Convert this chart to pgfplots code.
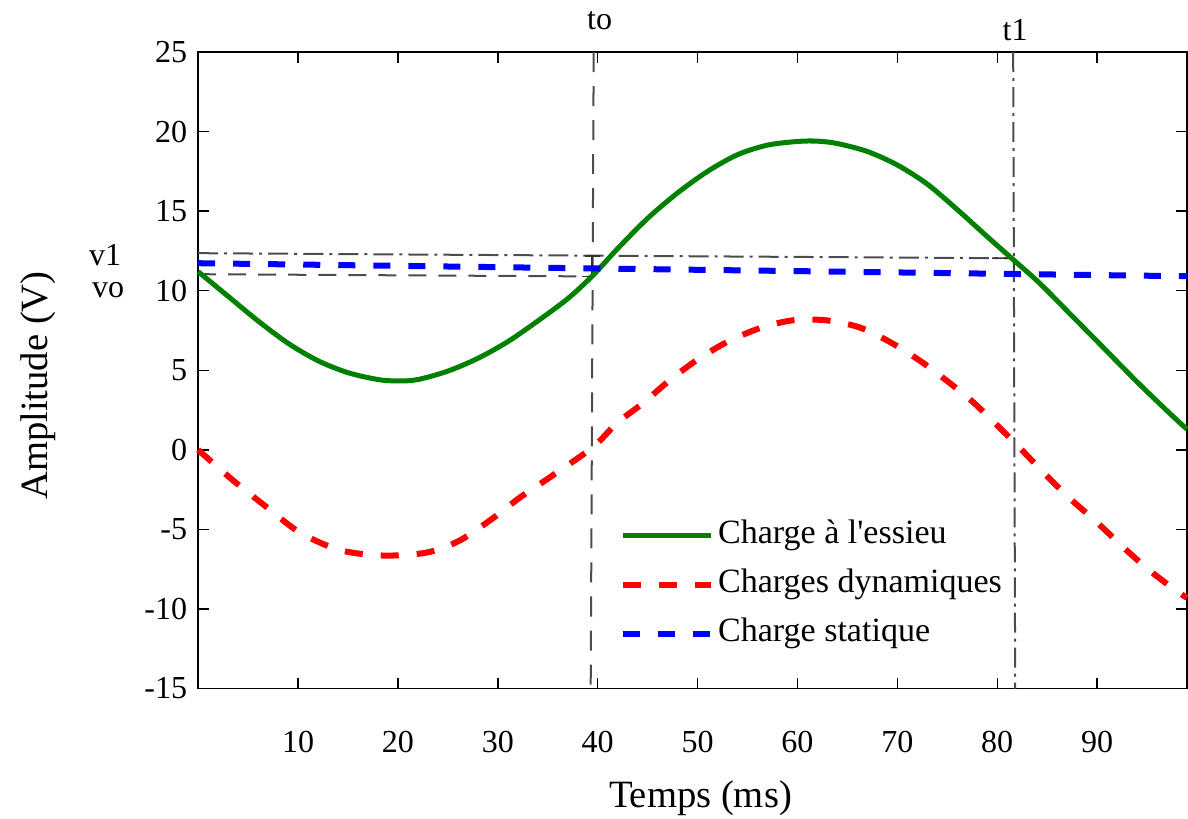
\documentclass[border=0pt]{standalone}
\usepackage{fontspec}
\setmainfont{Liberation Serif}
\usepackage{pgfplots}
\pgfplotsset{compat=1.18}

\definecolor{mgreen}{rgb}{0,0.5,0}
\definecolor{guide}{gray}{0.3}

\begin{document}
\begin{tikzpicture}
\begin{axis}[
  at={(0,0)}, anchor=south west,
  scale only axis, width=494pt, height=318pt,
  xmin=0, xmax=99, ymin=-15, ymax=25,
  xtick={10,20,...,90}, ytick={-15,-10,...,25},
  tick align=inside, major tick length=5.5pt,
  every tick/.style={black, line width=0.7pt},
  axis line style={line width=0.9pt},
  /pgf/number format/assume math mode=true,
  ticklabel style={font=\fontsize{16}{19}\selectfont},
  xticklabel style={yshift=-18pt},
  yticklabel style={xshift=-2pt},
  xlabel={Temps (ms)}, ylabel={Amplitude (V)},
  label style={font=\fontsize{19.3}{23}\selectfont},
  xlabel style={at={([yshift=-55pt]axis description cs:0.508,0)}, anchor=center},
  ylabel style={at={([xshift=-80pt]axis description cs:0,0.476)}, anchor=center},
  clip=false,
  legend style={at={(axis cs:42.2,-8.46)}, anchor=west, draw=none, fill=none,
    font=\fontsize{17}{20}\selectfont, inner sep=0pt, row sep=4.5pt,
    nodes={inner sep=2pt, text height=12pt, text depth=4pt}},
  legend cell align=left,
  legend image code/.code={\draw[#1] (0pt,0pt) -- (44pt,0pt);},
]

% guide lines (to, t1, vo, v1)
\addplot[forget plot, guide, line width=1pt, dash pattern=on 10pt off 7pt] coordinates {(39.6,25) (39.3,-15)};
\addplot[forget plot, guide, line width=1pt, dash pattern=on 10pt off 3pt on 1.5pt off 3pt] coordinates {(81.6,25) (81.8,-15)};
\addplot[forget plot, guide, line width=1pt, dash pattern=on 10pt off 3pt on 1.5pt off 3pt] coordinates {(0,12.36) (81.7,12.04)};
\addplot[forget plot, guide, line width=1pt, dash pattern=on 9pt off 6pt] coordinates {(0,11.04) (39.4,10.9)};
\addplot[forget plot, black!80, line width=0.8pt] coordinates {(38.7,12.17) (40.2,12.17)};
\addplot[forget plot, black!80, line width=0.8pt] coordinates {(39.45,12.17) (39.45,10.9) (38.4,10.9)};
\addplot[forget plot, black!80, line width=0.8pt] coordinates {(79.5,12.05) (81.7,12.04) (81.7,11.4)};

% charge a l'essieu
\addplot[mgreen, line width=2.5pt, smooth] coordinates {
(0,11.2) (3,9.65) (6,8.1) (9,6.7) (12,5.6) (15,4.85) (18,4.42) (20,4.33)
(22,4.42) (25,4.95) (28,5.75) (31,6.8) (34,8.1) (37,9.5) (39.5,10.95)
(42,12.65) (45,14.55) (48,16.15) (51,17.5) (54,18.55) (57,19.15) (60,19.38)
(62,19.4) (64,19.25) (67,18.75) (70,17.9) (73,16.7) (76,15.1) (79,13.4)
(81.7,11.9) (84.2,10.5) (87.6,8.35) (90.9,6.25) (94.2,4.15) (97.6,2.1) (99,1.3)
};
% charges dynamiques
\addplot[red, line width=3pt, dash pattern=on 9pt off 9pt, smooth] coordinates {
(0,0) (3.5,-1.92) (6.9,-3.62) (10.2,-5.2) (14.2,-6.3) (18.5,-6.64) (22.9,-6.45)
(26.2,-5.69) (29.5,-4.3) (32.2,-3.0) (35.2,-1.73) (39.5,0.16) (41.9,1.67)
(44.5,2.92) (47.2,4.37) (49.9,5.63) (52.9,6.76) (56.2,7.64) (59.5,8.14)
(62.9,8.14) (66.2,7.7) (69.2,6.8) (72.2,5.63) (74.9,4.37) (77.5,3.05)
(80.2,1.42) (82.5,-0.03) (84.9,-1.6) (87.5,-3.18) (89.9,-4.5) (92.5,-6.05)
(95.2,-7.55) (97.9,-8.84) (99,-9.3)
};
% charge statique
\addplot[blue, line width=3pt, dash pattern=on 8.5pt off 9pt] coordinates {
(0,11.73) (99,10.91)
};

\legend{Charge à l\textquotesingle essieu, Charges dynamiques, Charge statique}

\node[anchor=base, font=\fontsize{16}{19}\selectfont] at (axis cs:40.2,26.4) {to};
\node[anchor=base, font=\fontsize{16}{19}\selectfont] at (axis cs:81.8,25.75) {t1};
\node[anchor=base, font=\fontsize{16}{19}\selectfont] at ([xshift=-46.5pt]axis cs:0,11.6) {v1};
\node[anchor=base, font=\fontsize{16}{19}\selectfont] at ([xshift=-45pt]axis cs:0,9.6) {vo};

\end{axis}
\pgfresetboundingbox
\useasboundingbox (-99pt,-65pt) rectangle (494.5pt,344pt);
\end{tikzpicture}
\end{document}
